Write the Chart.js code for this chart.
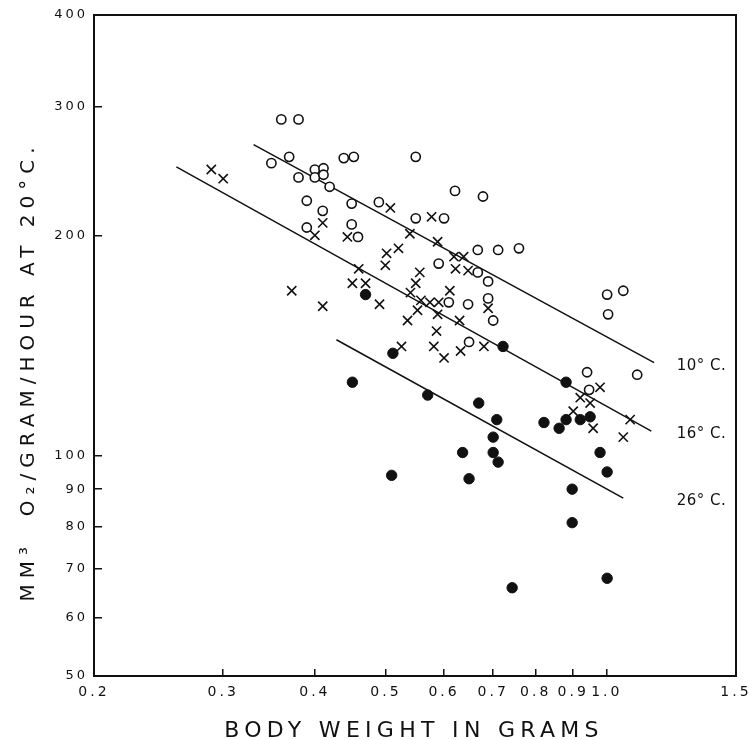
<!DOCTYPE html>
<html>
<head>
<meta charset="utf-8">
<script src="https://cdn.jsdelivr.net/npm/chart.js@4.4.1/dist/chart.umd.min.js"></script>
<style>
  html, body { margin: 0; padding: 0; background: #fff; }
</style>
</head>
<body>
<canvas id="myChart" width="749" height="740"></canvas>
<script>
// 10 deg C - open circles
let coldX = [0.360, 0.380, 0.349, 0.369, 0.380, 0.400, 0.411, 0.400, 0.411, 0.419,
             0.438, 0.452, 0.390, 0.449, 0.410, 0.390, 0.449, 0.458, 0.549, 0.621,
             0.678, 0.489, 0.549, 0.600, 0.590, 0.667, 0.711, 0.759, 0.667, 0.689,
             0.609, 0.647, 0.689, 0.700, 0.649, 0.940, 1.100, 0.946, 1.001, 1.053, 1.004];
let coldY = [288, 288, 251, 256, 240, 246, 247, 240, 242, 233,
             255, 256, 223, 221, 216, 205, 207, 199, 256, 230,
             226, 222, 211, 211, 183, 191, 191, 192, 178, 173,
             162, 161, 164, 153, 143, 130, 129, 123, 166, 168, 156];

// 16 deg C - crosses
let midX = [0.289, 0.300, 0.410, 0.400, 0.443, 0.507, 0.577, 0.539, 0.588, 0.501,
            0.520, 0.499, 0.619, 0.638, 0.622, 0.647, 0.459, 0.450, 0.469, 0.490,
            0.372, 0.410, 0.556, 0.549, 0.540, 0.558, 0.574, 0.590, 0.611, 0.689,
            0.552, 0.535, 0.588, 0.630, 0.586, 0.581, 0.600, 0.632, 0.680, 0.525,
            0.979, 0.920, 0.949, 0.900, 0.958, 1.076, 1.053];
let midY = [246, 239, 208, 200, 199, 218, 212, 201, 196, 189,
            192, 182, 187, 187, 180, 179, 180, 172, 172, 161,
            168, 160, 178, 172, 167, 163, 162, 162, 168, 159,
            158, 153, 156, 153, 148, 141, 136, 139, 141, 141,
            124, 120, 118, 115, 109, 112, 106];

// 26 deg C - filled circles
let warmX = [0.469, 0.511, 0.722, 0.450, 0.570, 0.669, 0.708, 0.700, 0.636, 0.700,
             0.711, 0.509, 0.649, 0.880, 0.821, 0.861, 0.880, 0.920, 0.949, 0.979,
             1.001, 0.897, 0.897, 0.743, 1.001];
let warmY = [166, 138, 141, 126, 121, 118, 112, 106, 101, 101,
             98, 94, 93, 126, 111, 109, 112, 112, 113, 101,
             95, 90, 81, 66, 68];

// fitted lines (end points)
let line10X = [0.33, 1.16];
let line10Y = [266, 134];
let line16X = [0.259, 1.15];
let line16Y = [248, 108];
let line26X = [0.428, 1.053];
let line26Y = [144, 87.5];
let lineLabels = ['10° C.', '16° C.', '26° C.'];
let labelAtX = 1.245;

let xTicks = [0.2, 0.3, 0.4, 0.5, 0.6, 0.7, 0.8, 0.9, 1.0, 1.5];
let yTicks = [50, 60, 70, 80, 90, 100, 200, 300, 400];

let xTitle = 'BODY WEIGHT IN GRAMS';
let yTitle = 'MM³  O₂/GRAM/HOUR AT 20°C.';

const ink = '#111';
const pts = (xs, ys) => xs.map((x, i) => ({ x: x, y: ys[i] }));

const lineSet = (xs, ys) => ({
  data: pts(xs, ys),
  showLine: true,
  borderColor: ink,
  borderWidth: 1.5,
  pointRadius: 0,
  fill: false
});

const textPlugin = {
  id: 'spacedText',
  beforeDraw(chart) {
    chart.ctx.letterSpacing = '3px';
  },
  afterDraw(chart) {
    const ctx = chart.ctx;
    const a = chart.chartArea;
    const xs = chart.scales.x, ys = chart.scales.y;
    ctx.save();
    ctx.strokeStyle = ink;
    ctx.lineWidth = 2;
    ctx.strokeRect(a.left, a.top, a.right - a.left, a.bottom - a.top);

    ctx.fillStyle = ink;
    ctx.textBaseline = 'alphabetic';

    // x title
    ctx.font = '22px "DejaVu Sans"';
    ctx.letterSpacing = '5.3px';
    ctx.textAlign = 'center';
    ctx.fillText(xTitle, (a.left + a.right) / 2 - 1, 737);

    // line labels
    ctx.font = '15px "DejaVu Sans"';
    ctx.letterSpacing = '0.5px';
    ctx.textAlign = 'left';
    const ends = [line10Y[1], line16Y[1], line26Y[1]];
    lineLabels.forEach((t, i) => {
      ctx.fillText(t, xs.getPixelForValue(labelAtX), ys.getPixelForValue(ends[i]) + 7);
    });

    // y title
    ctx.translate(34, (a.top + a.bottom) / 2 + 26);
    ctx.rotate(-Math.PI / 2);
    ctx.font = '20px "DejaVu Sans"';
    ctx.letterSpacing = '6px';
    ctx.textAlign = 'center';
    ctx.fillText(yTitle, 0, 0);
    ctx.restore();
    ctx.letterSpacing = '0px';
  }
};

let myChart = document.getElementById('myChart').getContext('2d');

let chart = new Chart(myChart, {
  type: 'scatter',
  data: {
    datasets: [
      {
        data: pts(coldX, coldY),
        pointStyle: 'circle',
        pointRadius: 4.6,
        borderWidth: 1.6,
        borderColor: ink,
        backgroundColor: '#fff'
      },
      {
        data: pts(midX, midY),
        pointStyle: 'crossRot',
        pointRadius: 6.5,
        borderWidth: 1.6,
        borderColor: ink,
        backgroundColor: ink
      },
      {
        data: pts(warmX, warmY),
        pointStyle: 'circle',
        pointRadius: 5.2,
        borderWidth: 1,
        borderColor: ink,
        backgroundColor: ink
      },
      lineSet(line10X, line10Y),
      lineSet(line16X, line16Y),
      lineSet(line26X, line26Y)
    ]
  },
  options: {
    responsive: false,
    animation: false,
    events: [],
    layout: { padding: { top: 15, right: 13, left: 0, bottom: 0 } },
    plugins: {
      legend: { display: false },
      tooltip: { enabled: false }
    },
    scales: {
      x: {
        type: 'logarithmic',
        min: 0.2,
        max: 1.5,
        afterBuildTicks: s => { s.ticks = xTicks.map(v => ({ value: v })); },
        afterFit: s => { s.height = 64; s.paddingLeft = 0; s.paddingRight = 0; },
        ticks: {
          autoSkip: false,
          maxRotation: 0,
          padding: 15,
          color: ink,
          font: { family: 'DejaVu Sans', size: 14 },
          callback: v => (v === 1 ? '1.0' : String(v))
        },
        grid: { drawOnChartArea: false, drawTicks: true, tickLength: -7, color: ink, lineWidth: 1.5 },
        border: { color: ink, width: 2 }
      },
      y: {
        type: 'logarithmic',
        min: 50,
        max: 400,
        afterBuildTicks: s => { s.ticks = yTicks.map(v => ({ value: v })); },
        afterFit: s => { s.width = 94; s.paddingTop = 0; s.paddingBottom = 0; },
        ticks: {
          autoSkip: false,
          padding: 14,
          color: ink,
          font: { family: 'DejaVu Sans', size: 13 },
          callback: v => String(v)
        },
        grid: { drawOnChartArea: false, drawTicks: true, tickLength: -8, color: ink, lineWidth: 1.5 },
        border: { color: ink, width: 2 }
      }
    }
  },
  plugins: [textPlugin]
});
</script>
</body>
</html>
